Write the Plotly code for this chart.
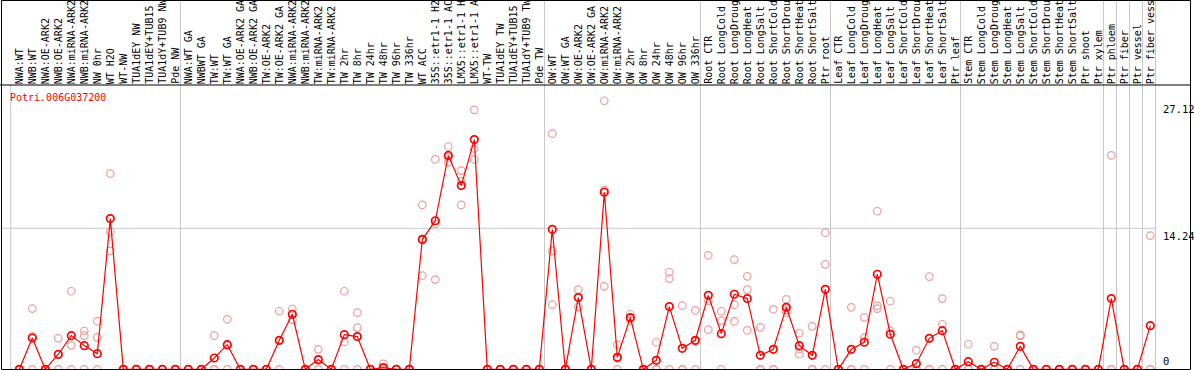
import plotly.graph_objects as go

gene = "Potri.006G037200"

categories = [
    "NWA:WT", "NWB:WT", "NWA:OE-ARK2", "NWB:OE-ARK2", "NWA:miRNA-ARK2", "NWB:miRNA-ARK2",
    "NW 0hr", "WT H2O", "WT-NW", "TUA1dEY NW", "TUA1dEY+TUB15 NW", "TUA1dY+TUB9 NW", "Pde NW",
    "NWA:WT GA", "NWBWT GA", "TW:WT", "TW:WT GA", "NWA:OE-ARK2 GA", "NWB:OE-ARK2 GA",
    "TW:OE-ARK2", "TW:OE-ARK2 GA", "NWA:miRNA-ARK2 GA", "NWB:miRNA-ARK2 GA", "TW:miRNA-ARK2",
    "TW:miRNA-ARK2 GA", "TW 2hr", "TW 8hr", "TW 24hr", "TW 48hr", "TW 96hr", "TW 336hr",
    "WT ACC", "35S::etr1-1 H2O", "35S::etr1-1 ACC", "LMX5::etr1-1 H2O", "LMX5::etr1-1 ACC",
    "WT-TW", "TUA1dEY TW", "TUA1dEY+TUB15 TW", "TUA1dY+TUB9 TW", "Pde TW",
    "OW:WT", "OW:WT GA", "OW:OE-ARK2", "OW:OE-ARK2 GA", "OW:miRNA-ARK2", "OW:miRNA-ARK2 GA",
    "OW 2hr", "OW 8hr", "OW 24hr", "OW 48hr", "OW 96hr", "OW 336hr",
    "Root CTR", "Root LongCold", "Root LongDrought", "Root LongHeat", "Root LongSalt",
    "Root ShortCold", "Root ShortDrought", "Root ShortHeat", "Root ShortSalt", "Ptr root",
    "Leaf CTR", "Leaf LongCold", "Leaf LongDrought", "Leaf LongHeat", "Leaf LongSalt",
    "Leaf ShortCold", "Leaf ShortDrought", "Leaf ShortHeat", "Leaf ShortSalt", "Ptr leaf",
    "Stem CTR", "Stem LongCold", "Stem LongDrought", "Stem LongHeat", "Stem LongSalt",
    "Stem ShortCold", "Stem ShortDrought", "Stem ShortHeat", "Stem ShortSalt", "Ptr shoot",
    "Ptr xylem", "Ptr phloem", "Ptr fiber", "Ptr vessel", "Ptr fiber vessel",
]

mean_values = [
    0, 3.16, 0, 1.52, 3.40, 2.39, 1.58, 15.22, 0, 0, 0, 0, 0,
    0, 0, 1.14, 2.49, 0, 0, 0, 2.93, 5.56, 0, 0.98, 0, 3.50, 3.30, 0, 0.17, 0, 0,
    13.1, 15.0, 21.6, 18.55, 23.2, 0, 0, 0, 0, 0,
    14.14, 0, 7.24, 0, 17.88, 1.21, 5.22, 0, 0.91, 6.33, 2.12, 2.93,
    7.47, 3.6, 7.58, 7.14, 1.41, 2.02, 6.26, 2.39, 1.41, 8.08,
    0, 2.02, 2.73, 9.6, 3.54, 0, 0.57, 3.13, 3.9, 0,
    0.77, 0, 0.71, 0, 2.32, 0, 0, 0, 0, 0, 0,
    7.14, 0, 0, 4.41,
]

rep1_values = [
    0, 6.13, 0, 3.13, 7.88, 3.87, 4.85, 19.77, 0, 0, 0, 0, 0,
    0, 0, 3.40, 5.05, 0, 0, 0, 5.86, 6.09, 0, 2.02, 0, 7.88, 5.72, 0, 0.54, 0, 0,
    16.6, 21.2, 22.5, 20.07, 26.2, 0, 0, 0, 0, 0,
    23.8, 0, 8.05, 0, 27.12, 2.49, 5.56, 0, 2.73, 9.8, 6.43, 5.96,
    11.5, 5.86, 11.08, 9.39, 4.24, 6.06, 7.07, 3.64, 4.34, 13.8,
    0, 6.26, 5.25, 15.96, 6.87, 0, 1.92, 9.36, 7.14, 0,
    2.53, 0, 2.32, 0, 3.47, 0, 0, 0, 0, 0, 0,
    21.6, 0, 0, 13.5,
]

rep2_values = [
    0, 3.33, 0, 1.45, 2.42, 3.40, 3.23, 13.91, 0, 0, 0, 0, 0,
    0, 0, 0, 2.4, 0, 0, 0, 2.9, 5.56, 0, 0.9, 0, 2.76, 4.21, 0, 0, 0, 0,
    13.2, 14.7, 21.4, 19.0, 22.3, 0, 0, 0, 0, 0,
    11.95, 0, 7.3, 0, 18.1, 1.1, 5.15, 0, 0, 9.16, 0, 2.8,
    6.9, 4.92, 6.53, 8.05, 0, 0, 6.0, 2.05, 0, 10.6,
    0, 0, 3.2, 6.4, 3.87, 0, 0, 0, 4.55, 0,
    0, 0, 0, 0, 3.37, 0, 0, 0, 0, 0, 0,
    0, 0, 0, 0,
]

rep3_values = [
    0, 0, 0, 0, 0, 0, 0, 11.95, 0, 0, 0, 0, 0,
    0, 0, 0, 0, 0, 0, 0, 0, 5.02, 0, 0, 0, 0, 0, 0, 0, 0, 0,
    9.46, 9.06, 20.9, 16.6, 21.2, 0, 0, 0, 0, 0,
    6.53, 0, 6.3, 0, 8.38, 0, 4.95, 0, 0, 0, 0, 0,
    4.0, 0, 4.85, 3.94, 0, 0, 5.72, 1.52, 0, 0,
    0, 0, 0, 6.13, 0, 0, 0, 0, 0, 0,
    0, 0, 0, 0, 0, 0, 0, 0, 0, 0, 0,
    0, 0, 0, 0,
]

# first index of each sample group (vertical separators)
group_starts = [13, 41, 53, 63, 73, 84, 85, 86, 87, 88]
first_group_start = 0

y_tick_values = [27.12, 14.24, 0]
y_tick_labels = ["27.12", "14.24", "0"]
grid_value = 14.24

W, H = 1194, 370
FONT = "DejaVu Sans Mono"
RED = "#FF0000"
PINK = "#EE9C9C"
GRID = "#C8C8C8"

# pixel mapping
x_px0, x_step = 19.3, 13.0
y_zero_px, y_scale = 369.3, 9.902
x_range = [-x_px0 / x_step, (W - x_px0) / x_step]
y_range = [-(H - y_zero_px) / y_scale, y_zero_px / y_scale]

fig = go.Figure()

rep_x, rep_y = [], []
for reps in (rep1_values, rep2_values, rep3_values):
    rep_x += categories
    rep_y += reps

fig.add_trace(go.Scatter(
    x=rep_x, y=rep_y, mode="markers",
    marker=dict(symbol="circle-open", size=7.5, color=PINK, line=dict(width=1.2, color=PINK)),
    hoverinfo="skip", showlegend=False,
))
fig.add_trace(go.Scatter(
    x=categories, y=mean_values, mode="lines+markers",
    line=dict(color=RED, width=1.2),
    marker=dict(symbol="circle-open", size=7.5, color=RED, line=dict(width=1.7, color=RED)),
    showlegend=False,
))

shapes = []
top_line_paper = (H - 85) / H
for k in group_starts:
    shapes.append(dict(type="line", xref="x", yref="paper", x0=k - 0.6, x1=k - 0.6, y0=0, y1=1,
                       line=dict(color=GRID, width=1), layer="below"))
shapes.append(dict(type="line", xref="x", yref="paper", x0=first_group_start - 0.66,
                   x1=first_group_start - 0.66, y0=0, y1=top_line_paper,
                   line=dict(color=GRID, width=1), layer="below"))
shapes.append(dict(type="line", xref="x", yref="y", x0=x_range[0], x1=group_starts[-1] - 0.6,
                   y0=grid_value, y1=grid_value, line=dict(color=GRID, width=1), layer="below"))
shapes.append(dict(type="line", xref="paper", yref="paper", x0=0, x1=1190.5 / W,
                   y0=top_line_paper, y1=top_line_paper, line=dict(color="black", width=1)))
shapes.append(dict(type="rect", xref="paper", yref="paper", x0=1.5 / W, x1=1190.5 / W,
                   y0=0.5 / H, y1=(H - 0.5) / H, line=dict(color="black", width=1)))

annotations = []
for c in categories:
    annotations.append(dict(x=c, xref="x", y=(H - 85) / H, yref="paper", text=c, textangle=-90,
                            showarrow=False, xanchor="center", yanchor="bottom",
                            font=dict(family=FONT, size=10, color="black"), borderpad=0))
annotations.append(dict(x=8 / W, xref="paper", y=(H - 97) / H, yref="paper", text=gene,
                        showarrow=False, xanchor="left", yanchor="middle",
                        font=dict(family=FONT, size=10, color=RED)))
for v, t in zip(y_tick_values, y_tick_labels):
    annotations.append(dict(x=1161 / W, xref="paper", y=v, yref="y", text=t, showarrow=False,
                            xanchor="left", yanchor="bottom" if v == 0 else "top",
                            font=dict(family=FONT, size=10.5, color="black")))

fig.update_layout(
    width=W, height=H, margin=dict(l=0, r=0, t=0, b=0),
    paper_bgcolor="white", plot_bgcolor="white",
    xaxis=dict(type="category", range=x_range, showgrid=False, zeroline=False,
               showticklabels=False, ticks="", showline=False, fixedrange=True),
    yaxis=dict(range=y_range, showgrid=False, zeroline=False, showticklabels=False,
               ticks="", showline=False, fixedrange=True),
    shapes=shapes, annotations=annotations, showlegend=False,
)

fig.write_html("out.html", config={"displayModeBar": False},
               post_script="document.body.style.margin='0';document.body.style.overflow='hidden';")
